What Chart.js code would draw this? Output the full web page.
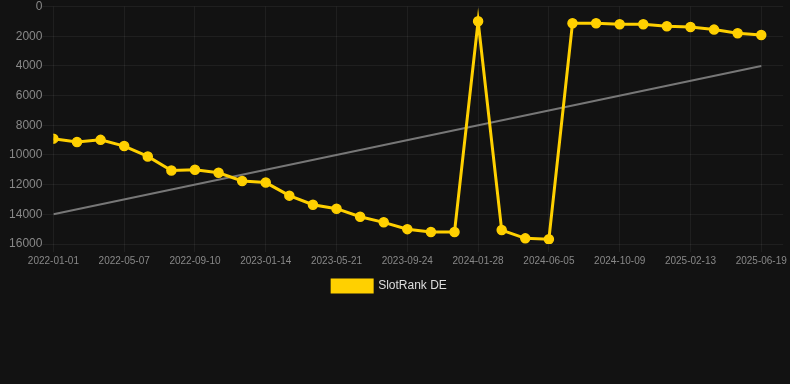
<!DOCTYPE html>
<html>
<head>
<meta charset="utf-8">
<script src="https://cdn.jsdelivr.net/npm/chart.js@4"></script>
<style>
  html, body { margin: 0; padding: 0; background: #121212; }
  #wrap { width: 790px; height: 302px; position: relative; }
</style>
</head>
<body>
<div id="wrap"><canvas id="c"></canvas></div>
<script>
const dates = [
  "2022-01-01","2022-02-12","2022-03-26","2022-05-07","2022-06-18","2022-07-30",
  "2022-09-10","2022-10-22","2022-12-03","2023-01-14","2023-02-25","2023-04-08",
  "2023-05-21","2023-07-02","2023-08-13","2023-09-24","2023-11-05","2023-12-17",
  "2024-01-28","2024-03-10","2024-04-21","2024-06-05","2024-07-17","2024-08-28",
  "2024-10-09","2024-11-20","2025-01-01","2025-02-13","2025-03-27","2025-05-08",
  "2025-06-19"
];
const rankDE = [
  8900, 9130, 8980, 9400, 10100, 11050,
  11000, 11200, 11750, 11860, 12740, 13350,
  13620, 14160, 14540, 15000, 15190, 15190,
  990, 15060, 15620, 15680, 1120, 1120,
  1190, 1190, 1330, 1370, 1550, 1800,
  1910
];
const trendStart = 14000;
const trendEnd = 4000;
const yTicks = [0, 2000, 4000, 6000, 8000, 10000, 12000, 14000, 16000];
const seriesName = "SlotRank DE";

const lineData = rankDE.map((v, i) => ({ x: i, y: v }));
const trendData = [{ x: 0, y: trendStart }, { x: dates.length - 1, y: trendEnd }];

new Chart(document.getElementById('c'), {
  type: 'line',
  data: {
    datasets: [
      {
        label: seriesName,
        data: lineData,
        borderColor: '#FFD000',
        backgroundColor: '#FFD000',
        borderWidth: 3,
        pointRadius: 4.5,
        pointBorderWidth: 1.5,
        pointBackgroundColor: '#FFD000',
        pointBorderColor: '#FFD000',
        tension: 0,
        fill: false,
        order: 1
      },
      {
        label: 'trend',
        data: trendData,
        borderColor: '#777777',
        borderWidth: 2,
        pointRadius: 0,
        fill: false,
        order: 2
      }
    ]
  },
  options: {
    animation: false,
    responsive: true,
    maintainAspectRatio: false,
    layout: { padding: { left: -11, right: 0, top: 0, bottom: 0 } },
    scales: {
      x: {
        type: 'linear',
        min: 0,
        max: 30.93,
        afterBuildTicks: (axis) => {
          const t = [];
          for (let i = 0; i < dates.length; i += 3) t.push({ value: i });
          axis.ticks = t;
        },
        ticks: {
          color: '#888',
          font: { family: 'Liberation Sans, Arial, sans-serif', size: 10 },
          maxRotation: 0,
          autoSkip: false,
          callback: (v) => dates[v] ?? ''
        },
        grid: { color: 'rgba(255,255,255,0.06)' },
        border: { display: false }
      },
      y: {
        reverse: true,
        min: 0,
        max: 16000,
        afterBuildTicks: (axis) => { axis.ticks = yTicks.map(v => ({ value: v })); },
        afterFit: (axis) => { axis.width = 64.4; },
        ticks: {
          color: '#888',
          padding: 0,
          font: { family: 'Liberation Sans, Arial, sans-serif', size: 12, lineHeight: 1.1 },
          callback: (v) => String(v)
        },
        grid: { color: 'rgba(255,255,255,0.06)', tickLength: 11 },
        border: { display: false }
      }
    },
    plugins: {
      legend: {
        position: 'bottom',
        labels: {
          color: '#ddd',
          font: { family: 'Liberation Sans, Arial, sans-serif', size: 12 },
          boxWidth: 40,
          boxHeight: 12,
          filter: (item) => item.text !== 'trend'
        }
      },
      tooltip: { enabled: false }
    }
  }
});
</script>
</body>
</html>
